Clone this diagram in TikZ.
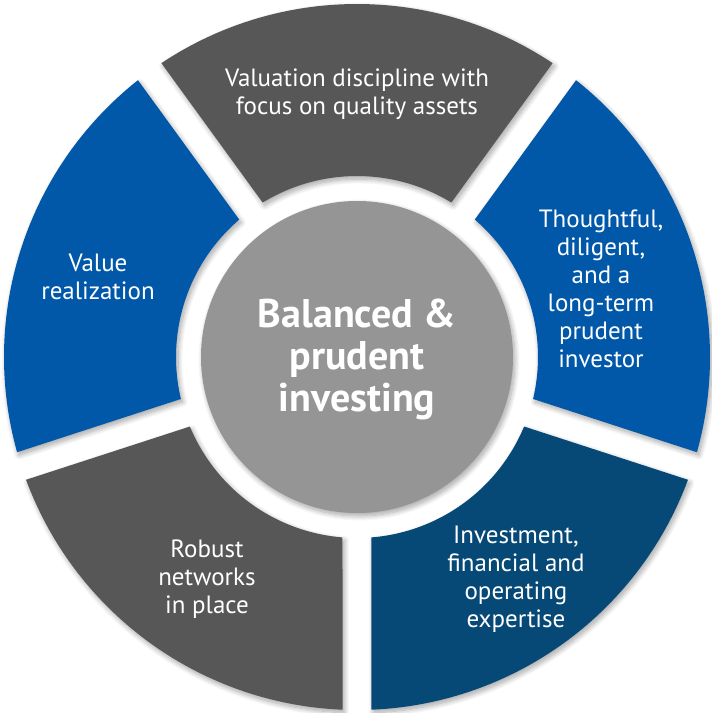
\documentclass[tikz,border=0pt]{standalone}
\usepackage{fontspec}
\setmainfont{PT Sans}
\usetikzlibrary{shadows.blur}
\definecolor{segGrey}{RGB}{87,87,87}
\definecolor{segBlue}{RGB}{1,88,168}
\definecolor{segDark}{RGB}{6,73,119}
\definecolor{hubGrey}{RGB}{149,149,149}
\tikzset{
  seg/.style={blur shadow={shadow xshift=2pt,shadow yshift=-3pt,shadow blur radius=5pt,shadow blur steps=10,shadow opacity=35}},
  segtext/.style={text=white,align=center,font=\fontsize{25}{28}\selectfont,inner sep=0pt},
}
\newcommand{\Rout}{353}
\newcommand{\Rin}{181}
\newcommand{\Hgap}{14.5}
% segment from angle #1 to #2, colour #3
\newcommand{\ringseg}[3]{%
  \pgfmathsetmacro{\aO}{asin(\Hgap/\Rout)}%
  \pgfmathsetmacro{\aI}{asin(\Hgap/\Rin)}%
  \pgfmathsetmacro{\sO}{#1+\aO}\pgfmathsetmacro{\eO}{#2-\aO}%
  \pgfmathsetmacro{\sI}{#1+\aI}\pgfmathsetmacro{\eI}{#2-\aI}%
  \fill[#3,seg] (\sO:\Rout) arc[start angle=\sO,end angle=\eO,radius=\Rout]
    -- (\eI:\Rin) arc[start angle=\eI,end angle=\sI,radius=\Rin] -- cycle;%
}
\begin{document}
\begin{tikzpicture}[x=1pt,y=1pt]
\useasboundingbox (-357,-356) rectangle (355,357);
\ringseg{54}{126}{segGrey}
\ringseg{-18}{54}{segBlue}
\ringseg{-90}{-18}{segDark}
\ringseg{198}{270}{segGrey}
\ringseg{126}{198}{segBlue}
\fill[hubGrey,seg] (0,0) circle[radius=156];
\node[text=white,align=center,font=\bfseries\fontsize{40}{42}\selectfont,inner sep=0pt] (hub) at (0,-2) {Balanced \&\\prudent\\investing};
\node[segtext] (top) at (0,263) {Valuation discipline with\\focus on quality assets};
\node[segtext] (right) at (244,68) {Thoughtful,\\diligent,\\and a\\long-term\\prudent\\investor};
\node[segtext] (left) at (-259,80) {Value\\realization};
\node[segtext] (botleft) at (-150,-222) {Robust\\networks\\in place};
\node[segtext] (botright) at (159,-222) {Investment,\\financial and\\operating\\expertise};
\end{tikzpicture}
\end{document}
